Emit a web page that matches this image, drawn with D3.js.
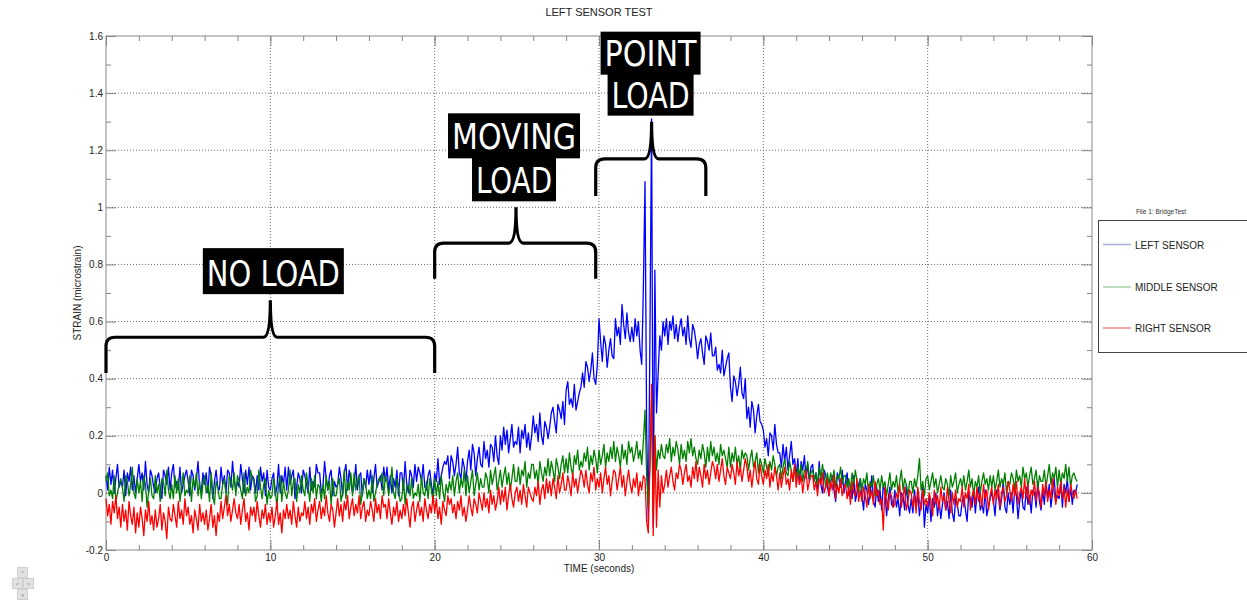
<!DOCTYPE html>
<html>
<head>
<meta charset="utf-8">
<script src="https://cdn.jsdelivr.net/npm/d3@7"></script>
<style>
  body { margin: 0; background: #fff; }
  svg { display: block; font-family: "Liberation Sans", Arial, sans-serif; }
</style>
</head>
<body>
<script>
// samples every 0.1 s, starting at t = 0
const sampleStep = 0.1;

const xTicks = [0, 10, 20, 30, 40, 50, 60];
const xMinorTicks = d3.range(0, 61, 2);
const yTicks = [-0.2, 0, 0.2, 0.4, 0.6, 0.8, 1, 1.2, 1.4, 1.6];
const yMinorTicks = [-0.1, 0.1, 0.3, 0.5, 0.7, 0.9, 1.1, 1.3, 1.5];

const seriesNames = ['LEFT SENSOR', 'MIDDLE SENSOR', 'RIGHT SENSOR'];

const leftSensor = [
  .06,.01,.09,.03,.08,0,.05,.1,.02,.04,
  .02,.08,-.01,.07,.04,.09,.01,.06,0,.05,
  .1,.04,.07,.01,.11,.03,0,.08,.06,.02,
  0,.05,.07,.02,-.02,.08,.06,.03,.09,.01,
  .07,.1,.02,.04,.01,.09,0,.03,.06,.08,
  .04,-.01,.08,.06,.01,.05,.11,.02,0,.07,
  .03,.07,0,.09,.06,-.02,.04,.08,.02,.01,
  .09,.03,.06,0,.08,.07,.02,.11,.04,.01,
  .04,.02,.1,.05,0,.08,.03,.09,.01,.06,
  .05,0,.06,.01,.09,.04,.07,-.01,.08,.02,
  .01,.05,.07,-.01,.02,.1,0,.06,.03,.09,
  .01,.09,.03,.06,.08,-.02,.02,.07,.05,0,
  .08,.06,.03,0,.09,.01,.04,.02,.1,.07,
  .07,0,.02,.11,.05,.01,.06,.08,-.01,.04,
  .02,.03,.09,.05,-.01,.07,.1,.01,.08,.04,
  0,.03,.1,.01,.06,.07,-.01,.05,.02,.08,
  .03,.08,0,.05,.1,.02,.04,.06,.01,.09,
  .04,.09,.01,.06,0,.05,.02,.08,-.01,.07,
  .07,.01,.11,.03,0,.08,.06,.02,.1,.04,
  .09,.07,.04,.1,.02,.01,.06,.08,.03,-.01,
  .07,.04,.12,.03,.06,.09,.11,.1,.13,.05,
  .13,.11,.06,.1,.16,.07,.05,.12,.09,.04,
  .11,.15,.08,.17,.14,.06,.12,.16,.1,.09,
  .18,.12,.15,.09,.17,.16,.11,.2,.13,.1,
  .2,.15,.23,.17,.22,.14,.19,.24,.16,.18,
  .17,.23,.14,.22,.19,.24,.16,.21,.15,.2,
  .27,.21,.24,.18,.28,.2,.17,.25,.23,.19,
  .23,.28,.3,.25,.21,.31,.29,.26,.32,.24,
  .36,.39,.31,.33,.3,.38,.29,.32,.35,.37,
  .42,.37,.46,.44,.39,.43,.49,.4,.38,.45,
  .61,.53,.46,.55,.52,.44,.5,.54,.48,.47,
  .61,.55,.58,.52,.66,.59,.54,.63,.56,.53,
  .58,.53,.61,.55,.6,.5,.45,.72,1.09,.22,
  -.1,.55,1.31,-.12,.78,.28,.42,.55,.5,.6,
  .55,.61,.52,.6,.57,.62,.54,.59,.53,.58,
  .61,.55,.58,.52,.62,.54,.51,.59,.57,.53,
  .47,.52,.54,.49,.45,.55,.53,.5,.56,.48,
  .48,.51,.43,.45,.42,.5,.41,.44,.47,.49,
  .37,.32,.41,.39,.34,.38,.44,.35,.33,.4,
  .26,.3,.23,.32,.29,.21,.27,.31,.25,.24,
  .22,.16,.19,.13,.21,.2,.15,.24,.17,.14,
  .14,.09,.17,.11,.16,.08,.13,.18,.1,.12,
  .06,.12,.03,.11,.08,.13,.05,.1,.04,.09,
  .1,.04,.07,.01,.11,.03,0,.08,.06,.02,
  -.01,.04,.06,.01,-.03,.07,.05,.02,.08,0,
  .04,.07,-.01,.01,-.02,.06,-.03,0,.03,.05,
  -.01,-.06,.03,.01,-.04,0,.06,-.03,-.05,.02,
  -.03,.01,-.06,.03,0,-.08,-.02,.02,-.04,-.05,
  .01,-.05,-.02,-.08,0,-.01,-.06,.03,-.04,-.07,
  -.02,-.07,.01,-.05,0,-.08,-.03,.02,-.12,-.04,
  -.07,-.01,-.1,-.02,-.05,0,-.08,-.03,-.09,-.04,
  0,-.06,-.03,-.09,.01,-.07,-.1,-.02,-.04,-.08,
  -.08,-.03,-.01,-.06,-.1,0,-.02,-.05,.01,-.07,
  -.01,.02,-.06,-.04,-.07,.01,-.08,-.05,-.02,0,
  -.03,-.08,.01,-.01,-.06,-.02,.04,-.05,-.07,0,
  -.04,0,-.07,.02,-.01,-.09,-.03,.01,-.05,-.06,
  .02,-.04,-.01,-.07,.01,0,-.05,.04,-.03,-.06,
  .01,-.04,.04,-.02,.03,-.05,0,.05,-.03,-.01,
  -.02,.04,-.05,.03,0,.05,-.03,.02,-.04,.01,
  0,.03
];

const middleSensor = [
  .04,.07,-.01,.01,-.02,.06,-.03,0,.03,.05,
  .02,-.03,.06,.04,-.01,.03,.09,0,-.02,.05,
  0,.04,-.03,.06,.03,-.05,.01,.05,-.01,-.02,
  .06,0,.03,-.03,.05,.04,-.01,.08,.01,-.02,
  .03,-.02,.06,0,.05,-.03,.02,.07,-.01,.01,
  0,.06,-.03,.05,.02,.07,-.01,.04,-.02,.03,
  .06,0,.03,-.03,.07,-.01,-.04,.04,.02,-.02,
  -.02,.03,.05,0,-.04,.06,.04,.01,.07,-.01,
  .06,.04,.01,-.02,.07,-.01,.02,0,.08,.05,
  .04,-.03,-.01,.08,.02,-.02,.03,.05,-.04,.01,
  -.02,-.01,.05,.01,-.05,.03,.06,-.03,.04,0,
  -.02,.01,.08,-.01,.04,.05,-.03,.03,0,.06,
  .01,-.01,.07,.02,-.03,.05,0,.06,-.02,.03,
  .02,-.03,.03,-.02,.06,.01,.04,-.04,.05,-.01,
  -.01,.03,.05,-.03,0,.08,-.02,.04,.01,.07,
  -.01,.07,.01,.04,.06,-.04,0,.05,.03,-.02,
  .01,-.02,.06,-.03,0,.03,.05,.04,.07,-.01,
  .06,.04,-.01,.03,.09,0,-.02,.05,.02,-.03,
  -.02,.05,-.04,.02,.03,-.01,.05,-.02,0,-.01,
  .03,-.03,.06,0,-.01,.04,-.02,.05,.01,-.03,
  .05,-.01,.04,-.02,.06,.01,-.03,.03,0,.04,
  .01,.06,-.01,.04,.07,0,.05,.02,.08,-.01,
  .06,0,.04,.08,-.01,.03,.07,.01,.05,.02,
  .02,.07,.05,0,.08,.03,.06,.09,.01,.04,
  .08,.02,.06,.09,.03,.07,.01,.05,.1,.04,
  .04,.09,.03,.08,.06,.11,.02,.07,.05,.1,
  .1,.05,.08,.03,.11,.07,.04,.09,.06,.12,
  .06,.11,.08,.04,.12,.09,.05,.1,.13,.07,
  .12,.07,.14,.09,.06,.13,.1,.15,.08,.11,
  .09,.14,.11,.16,.08,.13,.1,.15,.12,.07,
  .15,.1,.13,.17,.09,.14,.11,.16,.12,.18,
  .11,.16,.13,.09,.17,.12,.15,.1,.18,.14,
  .16,.11,.14,.18,.12,.15,.1,.18,.29,.06,
  -.05,.1,.33,-.08,.2,.08,.15,.12,.17,.13,
  .12,.17,.14,.19,.11,.16,.13,.18,.15,.1,
  .17,.12,.15,.11,.18,.14,.19,.13,.16,.12,
  .1,.15,.12,.17,.14,.09,.16,.11,.18,.13,
  .16,.11,.14,.1,.17,.13,.15,.12,.09,.16,
  .09,.14,.11,.16,.1,.13,.08,.15,.12,.14,
  .13,.08,.12,.15,.09,.11,.14,.07,.12,.1,
  .07,.12,.09,.06,.11,.08,.13,.1,.06,.09,
  .1,.05,.09,.12,.07,.06,.11,.08,.04,.09,
  .05,.09,.06,.1,.04,.08,.07,.11,.05,.07,
  .08,.04,.07,.03,.09,.05,.1,.06,.02,.07,
  .03,.07,.04,.08,.02,.06,.05,.09,.03,.06,
  .06,.02,.05,.01,.07,.03,.08,.04,0,.05,
  .01,.05,.03,.07,0,.04,.02,.06,-.01,.03,
  .05,.01,.06,.02,.04,-.01,.03,.07,.01,.04,
  .02,.06,0,.04,.08,.01,.05,.03,-.01,.04,
  .04,0,.05,.02,.06,.12,.01,.04,-.01,.05,
  .06,.01,.04,.07,.02,.05,0,.03,.06,.02,
  .01,.05,.03,-.01,.06,.02,.04,.07,0,.03,
  .05,.02,.06,.01,.04,.08,.02,.05,-.01,.04,
  .02,.06,0,.04,.07,.03,.05,.01,.06,.02,
  .06,.01,.04,.08,.02,.05,.03,.07,0,.04,
  .03,.07,.05,.01,.08,.04,.06,.02,.09,.05,
  .07,.02,.06,.09,.03,.05,.08,.01,.06,.04,
  .04,.08,.02,.06,.1,.03,.07,.05,.09,.02,
  .08,.03,.07,.05,.1,.04,.09,.02,.06,.07,
  .05,.04
];

const rightSensor = [
  -.02,-.08,-.04,-.11,-.03,-.07,-.01,-.09,-.05,-.12,
  -.04,-.1,-.06,-.13,-.03,-.08,-.11,-.05,-.14,-.07,
  -.12,-.05,-.09,-.15,-.06,-.1,-.03,-.11,-.08,-.13,
  -.06,-.12,-.09,-.04,-.13,-.07,-.1,-.16,-.05,-.09,
  -.1,-.04,-.08,-.12,-.03,-.09,-.06,-.11,-.02,-.08,
  -.05,-.11,-.08,-.14,-.06,-.09,-.13,-.04,-.1,-.07,
  -.11,-.06,-.13,-.09,-.04,-.12,-.08,-.15,-.07,-.1,
  -.03,-.09,-.05,-.01,-.08,-.04,-.1,-.06,-.02,-.07,
  -.09,-.04,-.11,-.06,-.02,-.1,-.07,-.13,-.05,-.08,
  -.05,-.1,-.03,-.08,-.12,-.06,-.09,-.04,-.11,-.07,
  -.1,-.05,-.12,-.08,-.03,-.11,-.07,-.14,-.06,-.09,
  -.04,-.09,-.06,-.11,-.03,-.08,-.12,-.05,-.1,-.07,
  -.08,-.03,-.09,-.05,-.11,-.04,-.07,-.02,-.1,-.06,
  -.03,-.09,-.05,-.08,-.01,-.07,-.1,-.04,-.06,-.12,
  -.07,-.02,-.08,-.04,-.1,-.03,-.06,-.01,-.09,-.05,
  -.02,-.08,-.04,-.07,-.01,-.09,-.05,-.03,-.1,-.06,
  -.08,-.03,-.06,-.1,-.02,-.07,-.04,-.09,-.01,-.05,
  -.04,-.09,-.02,-.07,-.11,-.05,-.08,-.03,-.1,-.06,
  -.09,-.04,-.08,-.02,-.07,-.12,-.05,-.03,-.1,-.06,
  -.03,-.08,-.05,-.1,-.02,-.06,-.09,-.04,-.07,-.01,
  -.07,-.02,-.09,-.05,-.11,-.03,-.06,-.08,-.01,-.04,
  -.02,-.07,-.04,-.09,-.03,-.06,-.01,-.08,-.05,-.1,
  -.06,-.01,-.05,-.08,-.02,-.04,-.07,0,-.03,-.06,
  0,-.05,-.02,-.07,.01,-.04,-.01,-.06,-.03,.02,
  -.04,.01,-.03,.02,-.06,-.01,.03,-.02,-.05,0,
  .02,-.03,.01,-.04,.03,-.01,-.05,.02,0,-.02,
  -.03,.02,-.01,.04,-.04,.01,.03,-.02,.05,0,
  .04,-.01,.05,.02,-.02,.06,0,.03,.07,.01,
  .01,.06,.03,-.01,.07,.02,.05,0,.04,.08,
  .06,.02,.08,.03,0,.07,.04,.09,.01,.05,
  .02,.07,0,.05,.09,.03,.06,-.01,.04,.08,
  .07,.01,.05,.09,.02,.06,-.01,.04,.08,.03,
  0,.05,.02,.07,-.01,.04,.01,.06,.05,-.1,
  -.14,.1,.38,-.15,.2,-.12,.08,-.05,.06,0,
  .03,.08,.02,.06,.09,.04,.01,.07,.05,.1,
  .08,.03,.07,.1,.04,.06,.02,.09,.05,.11,
  .04,.09,.06,.02,.1,.05,.08,.03,.07,.11,
  .09,.05,.1,.04,.08,.12,.06,.03,.09,.07,
  .05,.1,.07,.03,.11,.06,.09,.04,.08,.12,
  .09,.04,.08,.02,.07,.11,.05,.03,.1,.06,
  .03,.08,.05,.1,.02,.07,.04,.09,.06,.01,
  .07,.02,.06,.09,.03,.05,.01,.08,.04,.1,
  .02,.07,.03,.06,0,.05,.08,.01,.04,.06,
  .06,.01,.04,-.01,.05,.03,.07,0,.02,.05,
  -.01,.04,.01,.06,-.02,.03,0,.05,-.01,.02,
  .03,-.02,.02,-.04,.04,0,-.01,.05,-.03,.01,
  -.03,.02,-.01,-.05,.03,-.02,.01,-.04,.04,-.01,
  .01,-.04,-.02,-.13,.02,-.03,-.06,0,-.01,-.05,
  -.04,0,-.02,.03,-.05,-.01,.02,-.06,-.03,.01,
  0,-.05,-.01,-.07,.02,-.03,-.06,.01,-.04,-.02,
  -.05,0,-.03,-.08,.01,-.04,-.01,-.06,.02,-.03,
  -.01,-.06,.02,-.03,-.07,0,-.04,.01,-.05,-.02,
  -.03,.02,-.05,0,-.02,.03,-.06,-.01,.01,-.04,
  .02,-.03,0,-.05,.03,-.02,.01,-.06,-.01,.02,
  -.04,.01,-.02,.03,-.05,0,.02,-.03,-.01,.04,
  .01,-.03,.03,-.01,.04,-.04,0,.02,-.02,.05,
  -.02,.03,-.04,.01,-.01,.04,-.03,.02,0,-.05,
  .03,-.01,.04,-.03,.01,-.02,.05,0,-.04,.02,
  -.01,.04,-.02,.02,-.05,.01,-.03,.03,0,-.02,
  .01,-.02
];

const series = [leftSensor, middleSensor, rightSensor];
const lineColors = ['#0000ff', '#008000', '#ff0000'];
const legendColors = ['#a9aee0', '#a6d3a6', '#f08a8a'];

// bracket annotations: span in seconds, levels are [ends, bar, tip] in strain
const annotations = [
  {lines: [{text: 'NO LOAD', w: 133}], span: [0, 20], tip: 10, levels: [0.42, 0.545, 0.675], rowH: 46, dx: 3},
  {lines: [{text: 'MOVING', w: 124}, {text: 'LOAD', w: 76}], span: [20, 29.8], tip: 24.95, levels: [0.75, 0.875, 1.0], rowH: 44, dx: -2},
  {lines: [{text: 'POINT', w: 92}, {text: 'LOAD', w: 78}], span: [29.8, 36.5], tip: 33.2, levels: [1.04, 1.17, 1.3], rowH: 42, dx: -1}
];

const width = 1247, height = 613;
const plot = {left: 106, right: 1092, top: 36, bottom: 550};

const x = d3.scaleLinear().domain([0, 60]).range([plot.left, plot.right]);
const y = d3.scaleLinear().domain([-0.2, 1.6]).range([plot.bottom, plot.top]);
const fmt = d => String(+d.toFixed(1));

const svg = d3.select('body').append('svg')
    .attr('width', width)
    .attr('height', height);

svg.append('rect').attr('width', width).attr('height', height).attr('fill', '#fff');

// grid
let grid = svg.append('g')
    .attr('stroke', '#6b6b6b')
    .attr('stroke-dasharray', '1,2');

grid.selectAll('.gx')
    .data(xTicks.slice(1, -1))
    .enter().append('line')
    .attr('x1', d => x(d)).attr('x2', d => x(d))
    .attr('y1', plot.top).attr('y2', plot.bottom);

grid.selectAll('.gy')
    .data(yTicks.slice(1, -1))
    .enter().append('line')
    .attr('y1', d => y(d)).attr('y2', d => y(d))
    .attr('x1', plot.left).attr('x2', plot.right);

// axes, ticks inward on all four sides
let axisStyle = g => {
    g.select('.domain').remove();
    g.selectAll('.tick line').attr('stroke', '#858585');
    g.selectAll('.tick text').attr('fill', '#222').attr('font-family', '"Liberation Sans", Arial, sans-serif').attr('font-size', 10);
};

svg.append('g').attr('transform', `translate(0,${plot.bottom})`)
    .call(d3.axisBottom(x).tickValues(xTicks).tickSize(-10).tickPadding(4).tickFormat(fmt)).call(axisStyle);
svg.append('g').attr('transform', `translate(0,${plot.bottom})`)
    .call(d3.axisBottom(x).tickValues(xMinorTicks).tickSize(-5).tickFormat('')).call(axisStyle);
svg.append('g').attr('transform', `translate(0,${plot.top})`)
    .call(d3.axisTop(x).tickValues(xTicks).tickSize(-10).tickFormat('')).call(axisStyle);
svg.append('g').attr('transform', `translate(0,${plot.top})`)
    .call(d3.axisTop(x).tickValues(xMinorTicks).tickSize(-5).tickFormat('')).call(axisStyle);

svg.append('g').attr('transform', `translate(${plot.left},0)`)
    .call(d3.axisLeft(y).tickValues(yTicks).tickSize(-10).tickPadding(3).tickFormat(fmt)).call(axisStyle);
svg.append('g').attr('transform', `translate(${plot.left},0)`)
    .call(d3.axisLeft(y).tickValues(yMinorTicks).tickSize(-5).tickFormat('')).call(axisStyle);
svg.append('g').attr('transform', `translate(${plot.right},0)`)
    .call(d3.axisRight(y).tickValues(yTicks).tickSize(-10).tickFormat('')).call(axisStyle);
svg.append('g').attr('transform', `translate(${plot.right},0)`)
    .call(d3.axisRight(y).tickValues(yMinorTicks).tickSize(-5).tickFormat('')).call(axisStyle);

svg.append('rect')
    .attr('x', plot.left).attr('y', plot.top)
    .attr('width', plot.right - plot.left).attr('height', plot.bottom - plot.top)
    .attr('fill', 'none').attr('stroke', '#8a8a8a');

// sensor traces
let line = d3.line()
    .x((d, i) => x(i * sampleStep))
    .y(d => y(d));

svg.append('g')
    .selectAll('path')
    .data(series)
    .enter().append('path')
    .attr('d', line)
    .attr('fill', 'none')
    .attr('stroke', (d, i) => lineColors[i])
    .attr('stroke-width', 1.3)
    .attr('stroke-linejoin', 'round');

// titles
svg.append('text').attr('x', 599).attr('y', 15.5).attr('text-anchor', 'middle')
    .attr('font-size', 11).attr('fill', '#222').text('LEFT SENSOR TEST');
svg.append('text').attr('x', 599).attr('y', 572).attr('text-anchor', 'middle')
    .attr('font-size', 10).attr('fill', '#222').text('TIME (seconds)');
svg.append('text').attr('transform', 'translate(81,293) rotate(-90)').attr('text-anchor', 'middle')
    .attr('font-size', 10).attr('fill', '#222').text('STRAIN (microstrain)');

// legend
let legend = svg.append('g');
legend.append('text').attr('x', 1161).attr('y', 214).attr('text-anchor', 'middle')
    .attr('font-size', 6.5).attr('fill', '#333').text('File 1: BridgeTest');
legend.append('rect').attr('x', 1098.5).attr('y', 220.5).attr('width', 170).attr('height', 132)
    .attr('fill', '#fff').attr('stroke', '#444');
legend.selectAll('.entry')
    .data(seriesNames)
    .enter().append('g')
    .attr('transform', (d, i) => `translate(0,${[244.5, 287, 328][i]})`)
    .each(function(d, i) {
        d3.select(this).append('line').attr('x1', 1103).attr('x2', 1131)
            .attr('stroke', legendColors[i]).attr('stroke-width', 1.5);
        d3.select(this).append('text').attr('x', 1135).attr('y', 4)
            .attr('font-size', 10).attr('fill', '#222').text(d);
    });

// bracket annotations
annotations.forEach(a => {
    let x0 = x(a.span[0]), x1 = x(a.span[1]), xt = x(a.tip);
    let yb = y(a.levels[0]), ybar = y(a.levels[1]), ytip = y(a.levels[2]);
    let r = 9, w = 7;
    let p = d3.path();
    p.moveTo(x0, yb);
    p.lineTo(x0, ybar + r);
    p.quadraticCurveTo(x0, ybar, x0 + r, ybar);
    p.lineTo(xt - w, ybar);
    p.quadraticCurveTo(xt, ybar, xt, ytip);
    p.quadraticCurveTo(xt, ybar, xt + w, ybar);
    p.lineTo(x1 - r, ybar);
    p.quadraticCurveTo(x1, ybar, x1, ybar + r);
    p.lineTo(x1, yb);
    svg.append('path').attr('d', p.toString())
        .attr('fill', 'none').attr('stroke', '#000').attr('stroke-width', 3.2);

    let cx = xt + a.dx;
    let top = ytip - 6 - a.rowH * a.lines.length;
    a.lines.forEach((ln, k) => {
        let bw = ln.w + 8;
        let ry = top + k * a.rowH;
        svg.append('rect').attr('x', cx - bw / 2).attr('y', ry)
            .attr('width', bw).attr('height', a.rowH + (k < a.lines.length - 1 ? 1 : 0))
            .attr('fill', '#000');
        svg.append('text').attr('x', cx).attr('y', ry + a.rowH - 8)
            .attr('text-anchor', 'middle')
            .attr('font-family', '"DejaVu Sans Condensed", "Liberation Sans Narrow", "DejaVu Sans", sans-serif')
            .attr('font-stretch', 'condensed')
            .attr('font-size', 36)
            .attr('fill', '#fff')
            .attr('textLength', ln.w)
            .attr('lengthAdjust', 'spacingAndGlyphs')
            .text(ln.text);
    });
});

// pan control in the corner
let nav = svg.append('g').attr('font-size', 5).attr('fill', '#777').attr('text-anchor', 'middle');
[[17, 567, '^'], [12, 578, '<'], [23, 578, '>'], [17, 589, 'v']].forEach(([bx, by, s]) => {
    nav.append('rect').attr('x', bx + 0.5).attr('y', by + 0.5).attr('width', 10).attr('height', 10)
        .attr('fill', '#e2e2e2').attr('stroke', '#cfcfcf');
    nav.append('text').attr('x', bx + 5.5).attr('y', by + 7.5).text(s);
});
</script>
</body>
</html>
